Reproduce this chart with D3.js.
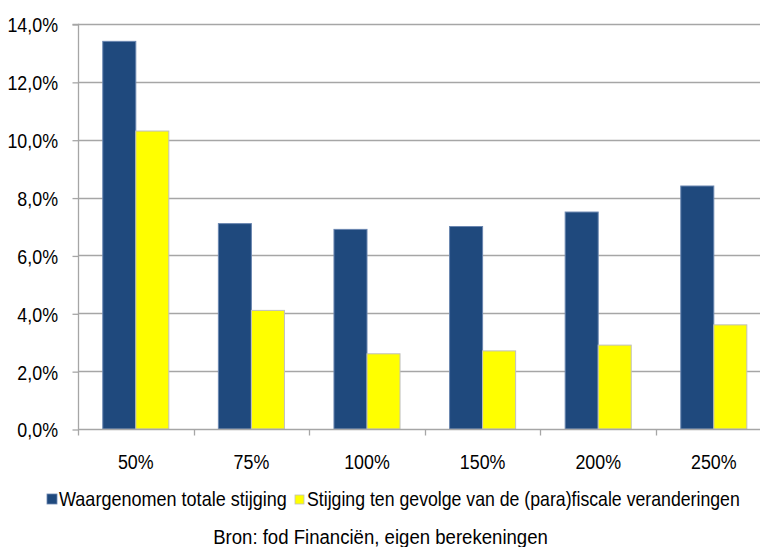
<!DOCTYPE html>
<html>
<head>
<meta charset="utf-8">
<script src="https://cdn.jsdelivr.net/npm/d3@7"></script>
<style>
  html, body { margin: 0; padding: 0; background: #fff; }
  svg text { font-family: "Liberation Sans Narrow", "Arial Narrow", "Liberation Sans", Arial, sans-serif; fill: #000; }
</style>
</head>
<body>
<svg id="chart" width="760" height="547"></svg>
<script>
// Inkomenscategorieën en stijgingen (in %)
const categories = ["50%", "75%", "100%", "150%", "200%", "250%"];
const totaleStijging = [13.4, 7.1, 6.9, 7.0, 7.5, 8.4];
const fiscaleStijging = [10.3, 4.1, 2.6, 2.7, 2.9, 3.6];
const seriesNames = ["Waargenomen totale stijging", "Stijging ten gevolge van de (para)fiscale veranderingen"];
const yTicks = [0, 2, 4, 6, 8, 10, 12, 14];
const sourceText = "Bron: fod Financiën, eigen berekeningen";

const colors = ["#1F497D", "#FFFF00"];
const strokes = ["#6A86B0", "#BFBFBF"];
const axisLabelStretch = 0.87;   // smalle letter voor aslabels

const svg = d3.select("#chart");
const plotLeft = 78, plotRight = 771.6, plotTop = 24, plotBottom = 429;

const x = d3.scaleBand().domain(categories).range([plotLeft, plotRight]).paddingInner(0).paddingOuter(0);
const inner = d3.scaleBand().domain([0, 1]).range([0, x.bandwidth()]).paddingInner(0).paddingOuter(0.75);
const y = d3.scaleLinear().domain([0, 14]).range([plotBottom, plotTop]);

// Tekst horizontaal versmallen tot een gegeven breedte, rond het ankerpunt
function fitWidth(textSel, width) {
  textSel.each(function () {
    const w = this.getComputedTextLength();
    const k = width / w;
    const tx = +this.getAttribute("x") || 0;
    const ty = +this.getAttribute("y") || 0;
    d3.select(this).attr("x", 0).attr("y", 0)
      .attr("transform", `translate(${tx},${ty}) scale(${k},1)`);
  });
}

// Horizontale rasterlijnen
svg.append("g")
  .selectAll("line")
  .data(yTicks.filter(d => d > 0))
  .join("line")
  .attr("x1", plotLeft).attr("x2", 760)
  .attr("y1", d => Math.round(y(d)) + 0.5).attr("y2", d => Math.round(y(d)) + 0.5)
  .attr("stroke", "#A6A6A6").attr("stroke-width", 1.3);

// Y-as
const yAxis = d3.axisLeft(y).tickValues(yTicks).tickSize(6).tickPadding(14)
  .tickFormat(d => d3.format(".1f")(d).replace(".", ",") + "%");
const gy = svg.append("g").attr("transform", `translate(${plotLeft + 0.5},0.5)`).call(yAxis);
gy.select(".domain").attr("stroke", "#A6A6A6").attr("stroke-width", 1.3)
  .attr("d", `M-6,${Math.round(plotTop)}H0V${Math.round(plotBottom)}`);
gy.selectAll(".tick line").attr("stroke", "#A6A6A6").attr("stroke-width", 1.3);
gy.selectAll(".tick text").attr("font-size", "20.5px").attr("dy", "0.36em")
  .attr("x", -20.5 / axisLabelStretch)
  .attr("transform", `scale(${axisLabelStretch},1)`);

// Staven
const data = categories.map((c, i) => ({ cat: c, vals: [totaleStijging[i], fiscaleStijging[i]] }));
const groups = svg.append("g").selectAll("g").data(data).join("g")
  .attr("transform", d => `translate(${x(d.cat)},0)`);
groups.selectAll("rect")
  .data(d => d.vals.map((v, s) => ({ v, s })))
  .join("rect")
  .attr("x", d => inner(d.s))
  .attr("width", inner.bandwidth())
  .attr("y", d => y(d.v))
  .attr("height", d => y(0) - y(d.v))
  .attr("fill", d => colors[d.s])
  .attr("stroke", d => strokes[d.s])
  .attr("stroke-width", 1);

// X-as
const xAxis = d3.axisBottom(x).tickSize(0).tickPadding(25);
const gx = svg.append("g").attr("transform", `translate(0,${Math.round(plotBottom) + 0.5})`).call(xAxis);
gx.select(".domain").attr("stroke", "#A6A6A6").attr("stroke-width", 1.3).attr("d", `M${plotLeft},0H760`);
gx.selectAll(".tick text").attr("font-size", "20.5px")
  .attr("transform", `scale(${axisLabelStretch},1)`);
// Scheidingsstreepjes tussen categorieën
gx.append("g").selectAll("line")
  .data(categories.map(c => x(c)))
  .join("line")
  .attr("x1", d => Math.round(d) + 0.5).attr("x2", d => Math.round(d) + 0.5)
  .attr("y1", 0).attr("y2", 6)
  .attr("stroke", "#A6A6A6").attr("stroke-width", 1.3);

// Legende
const legend = svg.append("g");
const legendItems = [
  { sx: 47, sy: 494, size: 10, tx: 59, w: 228 },
  { sx: 295, sy: 495, size: 9, tx: 307, w: 433 }
];
seriesNames.forEach((name, i) => {
  const it = legendItems[i];
  legend.append("rect").attr("x", it.sx).attr("y", it.sy).attr("width", it.size).attr("height", it.size)
    .attr("fill", colors[i]).attr("stroke", strokes[i]).attr("stroke-width", 0.8);
  legend.append("text").attr("x", it.tx).attr("y", 506).attr("font-size", "20px").text(name)
    .call(fitWidth, it.w);
});

// Bron
svg.append("text").attr("x", 380.5).attr("y", 544).attr("text-anchor", "middle")
  .attr("font-size", "20px").text(sourceText)
  .call(fitWidth, 335);
</script>
</body>
</html>
